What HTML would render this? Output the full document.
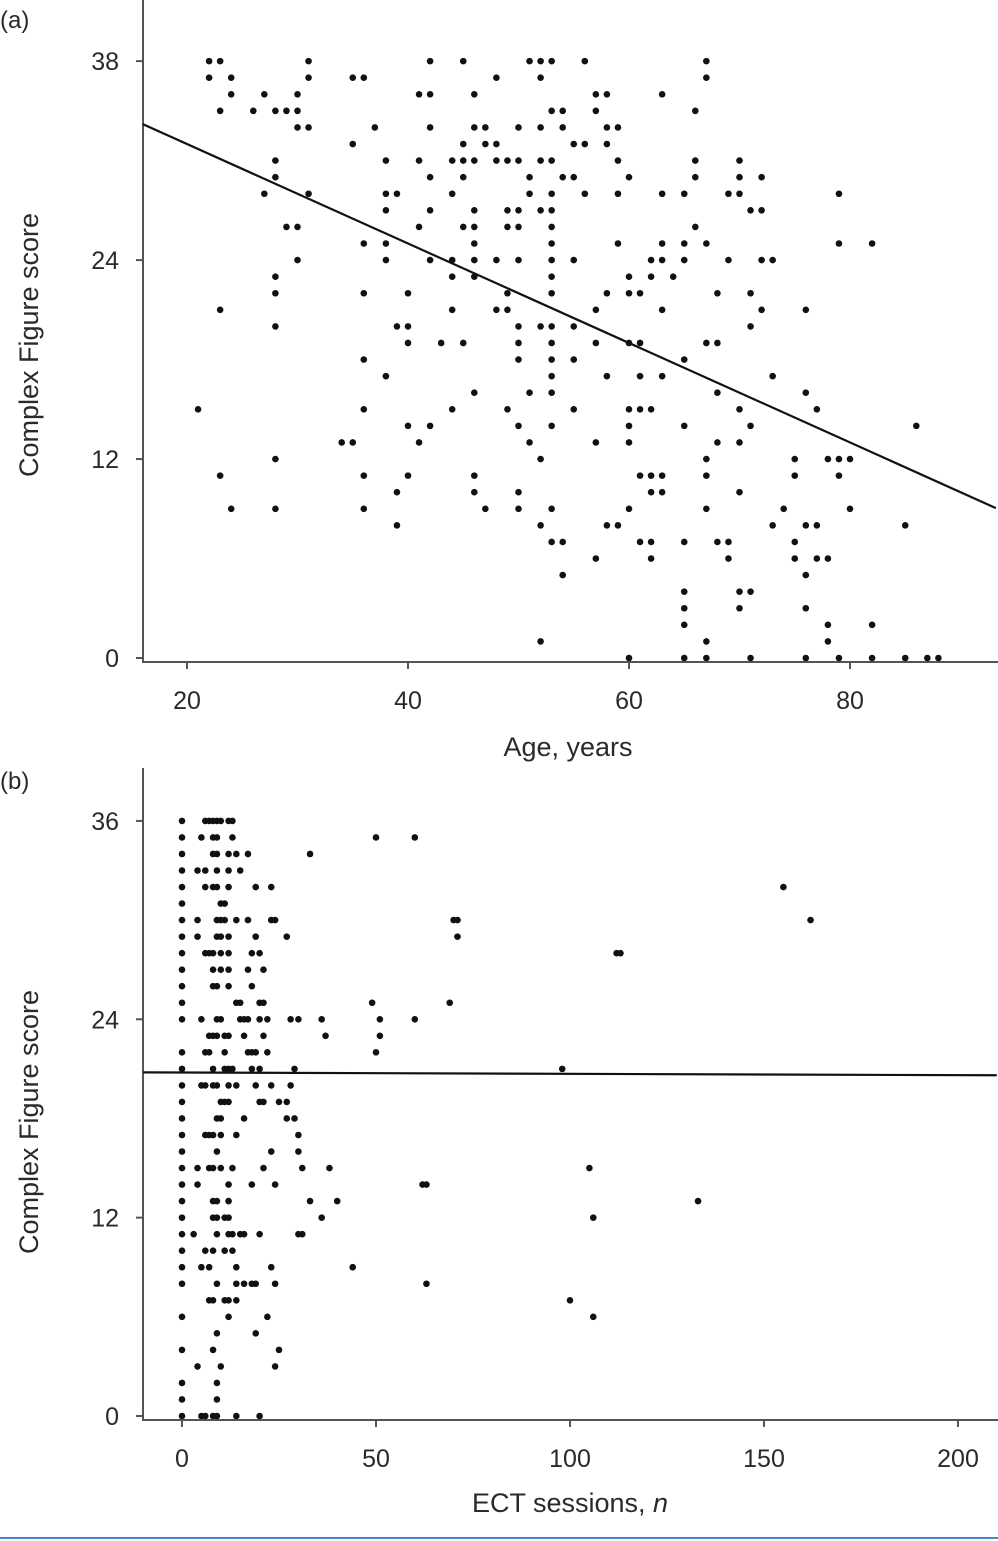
<!DOCTYPE html>
<html><head><meta charset="utf-8">
<style>
html,body{margin:0;padding:0;background:#fff;}
svg{display:block;font-family:"Liberation Sans",sans-serif;}
text{fill:#2a2a2a;}
</style></head>
<body>
<svg id="chart" width="998" height="1541" viewBox="0 0 998 1541" xmlns="http://www.w3.org/2000/svg">
  <text x="0" y="28" font-size="24">(a)</text>
  <text x="0" y="789" font-size="24">(b)</text>
  <text x="0" y="0" font-size="27" text-anchor="middle" transform="translate(38,345) rotate(-90)">Complex Figure score</text>
  <text x="568" y="756" font-size="27" text-anchor="middle">Age, years</text>
  <text x="0" y="0" font-size="27" text-anchor="middle" transform="translate(38,1122) rotate(-90)">Complex Figure score</text>
  <text x="570" y="1512" font-size="27" text-anchor="middle">ECT sessions, <tspan font-style="italic">n</tspan></text>
  <line x1="0" y1="1538" x2="998" y2="1538" stroke="#4a86c5" stroke-width="2"/>
  <g id="pa"></g>
  <g id="pb"></g>
</svg>
<script>
// ---- Panel (a) data ----
const scoresA = [36,35,34,33,32,31,30,29,28,27,26,25,24,23,22,21,20,19,18,17,16,15,14,13,12,11,10,9,8,7,6,5,4,3,2,1,0];
const agesA = [
 [22,23,31,42,45,51,52,53,56,67],
 [22,24,31,35,36,48,52,67],
 [24,27,30,41,42,46,57,58,63],
 [23,26,28,29,30,53,54,57,66],
 [30,31,37,42,46,47,50,52,54,58,59],
 [35,45,47,48,55,56,58],
 [28,38,41,44,45,46,48,49,50,52,53,59,66,70],
 [28,42,45,51,54,55,60,66,70,72],
 [27,31,38,39,44,51,53,56,59,63,65,69,70,79],
 [38,42,46,49,50,52,53,71,72],
 [29,30,41,45,46,49,50,53,66],
 [36,38,46,53,59,63,65,67,79,82],
 [30,38,42,44,46,48,50,53,55,62,63,65,69,72,73],
 [28,44,46,53,60,62,64],
 [28,36,40,49,53,58,60,61,68,71],
 [23,44,48,49,57,63,72,76],
 [28,39,40,50,52,53,55,71],
 [40,43,45,50,53,57,60,61,67,68],
 [36,50,53,55,65],
 [38,53,58,61,63,73],
 [46,51,53,68,76],
 [21,36,44,49,55,60,61,62,70,77],
 [40,42,50,53,60,65,71,86],
 [34,35,41,51,57,60,68,70],
 [28,52,67,75,78,79,80],
 [23,36,40,46,61,62,63,67,75,79],
 [39,46,50,62,63,70],
 [24,28,36,47,50,53,60,67,74,80],
 [39,52,58,59,73,76,77,85],
 [53,54,61,62,65,68,69,75],
 [57,62,69,75,77,78],
 [54,76],
 [65,70,71],
 [65,70,76],
 [65,78,82],
 [52,67,78],
 [60,65,67,71,76,79,82,85,87,88]
];
const xTicksA = [20,40,60,80];
const xTickLabelsA = ["20","40","60","80"];
const yTicksA = [0,12,24,36];
const yTickLabelsA = ["0","12","24","38"];
const fitA = [37.0,-0.3]; // intercept, slope
const fitRangeA = [16,93.2];

// ---- Panel (b) data ----
const scoresB = [36,35,34,33,32,31,30,29,28,27,26,25,24,23,22,21,20,19,18,17,16,15,14,13,12,11,10,9,8,7,6,5,4,3,2,1,0];
const sessionsB = [
 [0,6,7,8,9,10,12,13],
 [0,5,8,9,13,50,60],
 [0,8,9,12,14,17,33],
 [0,4,6,9,12,15],
 [0,6,8,9,12,19,23,155],
 [0,10,11],
 [0,4,9,10,11,14,17,23,24,70,71,162],
 [0,4,9,10,12,19,27,71],
 [0,6,7,8,10,12,18,20,112,113],
 [0,8,10,12,17,21],
 [0,8,9,12,18],
 [0,14,15,20,21,49,69],
 [0,5,9,10,15,16,17,20,22,28,30,36,51,60],
 [7,8,9,11,12,16,21,37,51],
 [0,6,7,11,17,18,19,22,50],
 [0,8,11,12,13,18,20,29,98],
 [0,5,6,8,9,12,14,19,23,28],
 [0,10,11,12,20,21,25,27],
 [0,9,10,16,27,29],
 [0,6,7,8,10,14,30],
 [0,9,23,30],
 [0,4,7,8,10,13,21,31,38,105],
 [0,4,12,18,24,62,63],
 [0,8,9,12,33,40,133],
 [0,8,9,11,12,36,106],
 [0,3,9,12,13,15,16,20,30,31],
 [0,6,8,11,13],
 [0,5,7,14,23,44],
 [0,9,14,16,18,19,24,63],
 [7,8,11,12,14,100],
 [0,12,22,106],
 [9,19],
 [0,8,25],
 [4,10,24],
 [0,9],
 [0,9],
 [0,5,6,8,9,14,20]
];
const xTicksB = [0,50,100,150,200];
const xTickLabelsB = ["0","50","100","150","200"];
const yTicksB = [0,12,24,36];
const yTickLabelsB = ["0","12","24","36"];
const fitB = [20.78,-0.0008];
const fitRangeB = [-10,210];

const NS = "http://www.w3.org/2000/svg";
function mk(tag, attrs, parent){
  const e = document.createElementNS(NS, tag);
  for (const k in attrs) e.setAttribute(k, attrs[k]);
  parent.appendChild(e);
  return e;
}

function drawPanel(g, cfg){
  const {xs, ys, axisTop, axisBottom, scores, xvals, xTicks, xLabels, yTicks, yLabels, fit, fitRange, prefix} = cfg;
  const ya = mk("line", {x1:143,y1:axisTop,x2:143,y2:axisBottom,stroke:"#555","stroke-width":2}, g);
  
  
  const xa = mk("line", {x1:142,y1:axisBottom,x2:998,y2:axisBottom,stroke:"#555","stroke-width":2}, g);
  
  
  xTicks.forEach((v,i)=>{
    const x = xs(v);
    const t = mk("line", {x1:x,y1:axisBottom,x2:x,y2:axisBottom+7,stroke:"#555","stroke-width":2}, g);
    
    
    const l = mk("text", {x:x,y:axisBottom+47,"font-size":25,"text-anchor":"middle"}, g);
    l.textContent = xLabels[i];
    
    
  });
  yTicks.forEach((v,i)=>{
    const y = ys(v);
    const t = mk("line", {x1:136,y1:y,x2:143,y2:y,stroke:"#555","stroke-width":2}, g);
    
    
    const l = mk("text", {x:119,y:y+9,"font-size":25,"text-anchor":"end"}, g);
    l.textContent = yLabels[i];
    
    
  });
  scores.forEach((s,i)=>{
    xvals[i].forEach(v=>{
      const p = mk("circle", {cx:xs(v),cy:ys(s),r:3.3,fill:"#111"}, g);
      
      
    });
  });
  const f = v => fit[0] + fit[1]*v;
  const ln = mk("line", {x1:xs(fitRange[0]),y1:ys(f(fitRange[0])),x2:xs(fitRange[1]),y2:ys(f(fitRange[1])),stroke:"#111","stroke-width":2.2}, g);
  
  
}

drawPanel(document.getElementById("pa"), {
  xs: a => 187 + (a-20)*11.05,
  ys: v => 658 - v*16.58,
  axisTop: 0, axisBottom: 662,
  scores: scoresA, xvals: agesA,
  xTicks: xTicksA, xLabels: xTickLabelsA,
  yTicks: yTicksA, yLabels: yTickLabelsA,
  fit: fitA, fitRange: fitRangeA, prefix: "panel-a"
});
drawPanel(document.getElementById("pb"), {
  xs: n => 182 + n*3.88,
  ys: v => 1416 - v*16.53,
  axisTop: 768, axisBottom: 1420,
  scores: scoresB, xvals: sessionsB,
  xTicks: xTicksB, xLabels: xTickLabelsB,
  yTicks: yTicksB, yLabels: yTickLabelsB,
  fit: fitB, fitRange: fitRangeB, prefix: "panel-b"
});
</script>
</body></html>
